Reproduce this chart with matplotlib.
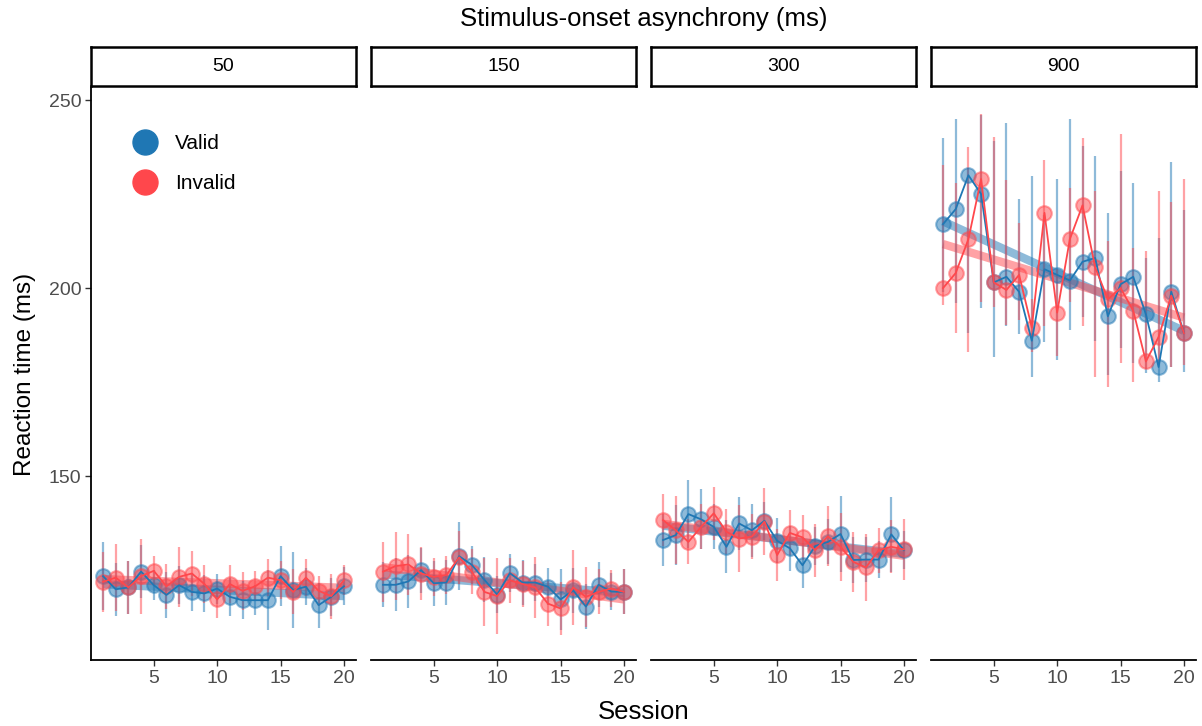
import numpy as np
import matplotlib.pyplot as plt
from matplotlib.lines import Line2D

plt.rcParams['font.family'] = ['Liberation Sans', 'DejaVu Sans']

# sessions and SOA panels
sessions = np.arange(1, 21)
soa_labels = ['50', '150', '300', '900']

# mean reaction times per session
valid_50 = [123.4, 119.9, 120.4, 124.6, 121, 118.4, 121, 119.2, 118.8, 120.1,
            117.9, 117, 117, 117, 123.4, 119.7, 120.6, 115.7, 117.9, 120.7]
invalid_50 = [121.9, 123, 120.4, 123.4, 124.8, 120.7, 123.2, 124.1, 121.3, 117.2,
              121.3, 119.5, 120.7, 123, 122.3, 119.2, 123, 119.5, 118.1, 122.3]
valid_150 = [121.1, 121.1, 122, 125, 121.5, 121.7, 128.7, 126.4, 122.4, 118.5,
             124.2, 121.7, 121.7, 120.6, 117.2, 119.6, 115.3, 121.1, 119.3, 119.2]
invalid_150 = [124.6, 126.1, 126.5, 124.1, 123.2, 123.7, 128.4, 124.6, 119.2, 118.1,
               122.3, 121.3, 120.4, 116.1, 114.8, 120.4, 117.9, 119.2, 120.1, 119.2]
valid_300 = [133, 134.3, 139.9, 138.5, 136.5, 131.2, 137.4, 135.6, 138.1, 132.8,
             130.8, 126.3, 131.4, 132.5, 134.6, 127.7, 127.8, 127.8, 134.5, 130.3]
invalid_300 = [138.3, 135.6, 132.5, 136.5, 140.1, 135.2, 133.4, 133.9, 137.9, 129,
               134.9, 133.7, 130.3, 134, 131.2, 127.2, 125.7, 130.3, 131.2, 130.5]
valid_900 = [217, 221, 230, 225, 201.5, 203, 199, 186, 205, 203.5,
             202, 207, 208, 192.5, 201, 203, 193, 179, 199, 188]
invalid_900 = [200, 204, 213, 229, 201.5, 199.5, 203.5, 189.5, 220, 193.5,
               213, 222, 205.5, 197, 200, 194, 180.5, 187, 198, 188]

# error bar half widths (50, 150, 300)
valid_err_50 = [9, 7, 7, 7, 4, 6, 5, 5, 5, 4, 5, 5, 4, 8, 8, 10, 5, 6, 5, 5]
invalid_err_50 = [8, 9, 7, 10, 4, 6, 8, 6, 5, 5, 5, 5, 4, 5, 5, 6, 5, 4, 6, 4]
valid_err_150 = [6, 7, 7, 6, 6, 6, 9, 5, 6, 5, 5, 6, 5, 5, 8, 6, 6, 6, 5, 6]
invalid_err_150 = [8, 9, 8, 7, 5, 5, 7, 6, 9, 10, 6, 6, 8, 6, 7, 10, 8, 6, 5, 6]
valid_err_300 = [7, 8, 9, 8, 6, 7, 7, 7, 5, 6, 6, 6, 5, 6, 10, 6, 6, 5, 10, 5]
invalid_err_300 = [7, 9, 6, 6, 7, 6, 9, 6, 9, 7, 6, 6, 7, 8, 9, 8, 9, 6, 7, 8]

# error bar ends for 900 ms (asymmetric)
valid_lo_900 = [199, 196, 188, 194.6, 181.7, 190, 187.7, 176.4, 185.7, 180.8,
                188.8, 192.4, 186, 177, 184, 180, 177.3, 175, 179, 177.8]
valid_hi_900 = [240, 245, 232, 246, 239, 243.8, 223.8, 229.9, 219.4, 229,
                245, 237.9, 235, 220, 231, 228, 207.9, 213.4, 233.4, 220.7]
invalid_lo_900 = [195.5, 188, 183, 196.4, 195, 190.2, 191.5, 183, 190, 182,
                  196.4, 190, 176.4, 173.8, 180, 175, 178.6, 180, 179, 179.5]
invalid_hi_900 = [232.7, 228, 237.6, 246.2, 240.2, 228.7, 217.2, 197, 234, 205,
                  226.5, 240, 225.8, 212.5, 241, 210.6, 209.8, 225.8, 223, 229]


def sym(err):
    return [list(err), list(err)]


def asym(mean, lo, hi):
    m = np.array(mean)
    return [m - np.array(lo), np.array(hi) - m]


panels = [
    (valid_50, sym(valid_err_50), invalid_50, sym(invalid_err_50)),
    (valid_150, sym(valid_err_150), invalid_150, sym(invalid_err_150)),
    (valid_300, sym(valid_err_300), invalid_300, sym(invalid_err_300)),
    (valid_900, asym(valid_900, valid_lo_900, valid_hi_900),
     invalid_900, asym(invalid_900, invalid_lo_900, invalid_hi_900)),
]

blue = '#1f77b4'
red = '#ff474c'
W, H = 1202, 726

fig = plt.figure(figsize=(W / 100, H / 100), dpi=100)

lefts = [91, 371, 651, 931]
pw = 265
ax_bottom, ax_top = 660, 88
strip_top, strip_bottom = 47, 86

for i, (v, ve, iv, ie) in enumerate(panels):
    x0 = lefts[i]
    ax = fig.add_axes([x0 / W, (H - ax_bottom) / H, pw / W, (ax_bottom - ax_top) / H])
    for mean, err, col in [(v, ve, blue), (iv, ie, red)]:
        mean = np.array(mean)
        # linear trend per condition
        k, b = np.polyfit(sessions, mean, 1)
        ax.plot(sessions, k * sessions + b, color=col, lw=6, alpha=0.5,
                solid_capstyle='butt', zorder=1)
        ax.errorbar(sessions, mean, yerr=err, fmt='none', ecolor=col,
                    elinewidth=1.6, alpha=0.5, zorder=2)
        ax.plot(sessions, mean, 'o', ms=10.5, color=col, mfc=col, mec=col,
                mew=1.5, alpha=0.5, zorder=3)
        ax.plot(sessions, mean, '-', color=col, lw=1.3, zorder=4)

    ax.set_xlim(0.05, 20.95)
    ax.set_ylim(101.1, 253.2)
    ax.set_xticks([5, 10, 15, 20])
    for s in ['top', 'right']:
        ax.spines[s].set_visible(False)
    ax.spines['bottom'].set_linewidth(1.3)
    ax.tick_params(axis='x', length=4, width=1, color='#333333',
                   labelsize=14, labelcolor='#4d4d4d', pad=3)
    if i == 0:
        ax.set_yticks([150, 200, 250])
        ax.spines['left'].set_linewidth(1.3)
        ax.tick_params(axis='y', length=4, width=1, color='#333333',
                       labelsize=14, labelcolor='#4d4d4d', pad=3)
        ax.set_ylabel('Reaction time (ms)', fontsize=17.5, labelpad=9)
        handles = [Line2D([], [], ls='none', marker='o', ms=18, color=blue, label='Valid'),
                   Line2D([], [], ls='none', marker='o', ms=18, color=red, label='Invalid')]
        ax.legend(handles=handles, loc='upper left', bbox_to_anchor=(0.07, 0.945),
                  frameon=False, fontsize=15, handletextpad=0.45, labelspacing=1.0,
                  borderpad=0.2)
    else:
        ax.spines['left'].set_visible(False)
        ax.set_yticks([])

    sax = fig.add_axes([x0 / W, (H - strip_bottom) / H, pw / W, (strip_bottom - strip_top) / H])
    sax.set_xticks([])
    sax.set_yticks([])
    for s in sax.spines.values():
        s.set_linewidth(1.8)
    sax.text(0.5, 0.5, soa_labels[i], ha='center', va='center', fontsize=14,
             transform=sax.transAxes)

fig.text((91 + 931 + pw) / 2 / W, 1 - 19 / H, 'Stimulus-onset asynchrony (ms)',
         ha='center', va='center', fontsize=18.5)
fig.text((91 + 931 + pw) / 2 / W, 1 - 712 / H, 'Session',
         ha='center', va='center', fontsize=18.5)

fig.savefig('out.png', dpi=100)
